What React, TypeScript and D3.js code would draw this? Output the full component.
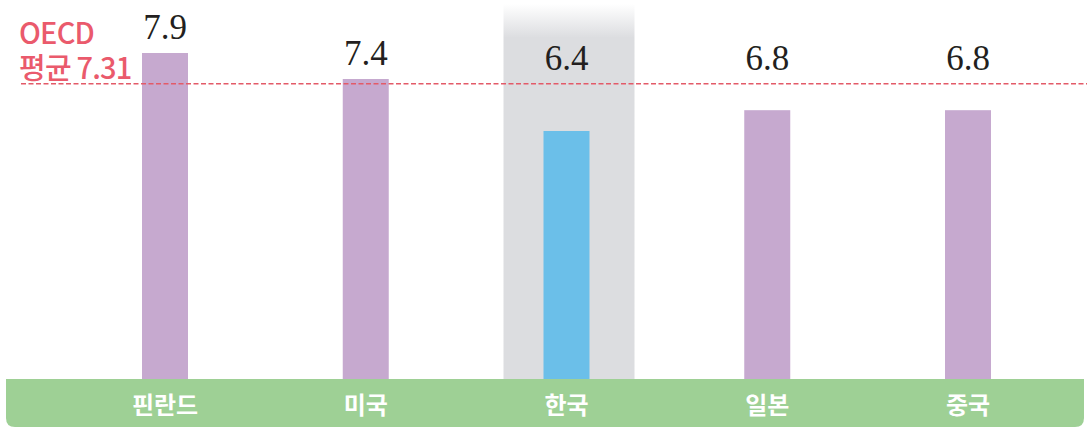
import * as d3 from "d3";

const countries = ["핀란드", "미국", "한국", "일본", "중국"];
const scores = [7.9, 7.4, 6.4, 6.8, 6.8];
const labels = ["7.9", "7.4", "6.4", "6.8", "6.8"];
const highlight = "한국";
const oecdAvg = 7.31;
const oecdLines = ["OECD", "평균 7.31"];

const W = 1087;
const H = 428;
const baseY = 379;

const App = () => {
  const x = d3.scalePoint<string>().domain(countries).range([165, 968]);
  const y = d3.scaleLinear().domain([1.63, 7.9]).range([baseY, 53]);
  const barW = 46;
  const oecdY = y(oecdAvg);
  const r = 9;

  // green band, square on top, rounded at the bottom
  const band = d3.path();
  band.moveTo(6, baseY);
  band.lineTo(1084, baseY);
  band.lineTo(1084, H - 1 - r);
  band.quadraticCurveTo(1084, H - 1, 1084 - r, H - 1);
  band.lineTo(6 + r, H - 1);
  band.quadraticCurveTo(6, H - 1, 6, H - 1 - r);
  band.closePath();

  return (
    <svg
      width={W}
      height={H}
      style={{ position: "absolute", left: 0, top: 0, background: "#fff" }}
    >
      <defs>
        <linearGradient id="hl" x1="0" y1="0" x2="0" y2="1">
          <stop offset="0" stopColor="#ffffff" />
          <stop offset="0.09" stopColor="#dcdde0" />
          <stop offset="1" stopColor="#dcdde0" />
        </linearGradient>
      </defs>

      <rect
        x={x(highlight)! - 63}
        y={4}
        width={131}
        height={baseY - 4}
        fill="url(#hl)"
      />

      {countries.map((c, i) => (
        <rect
          key={c}
          x={x(c)! - barW / 2}
          y={y(scores[i])}
          width={barW}
          height={baseY - y(scores[i])}
          fill={c === highlight ? "#6bbfe9" : "#c6a9cf"}
        />
      ))}

      <line
        x1={21}
        x2={W}
        y1={oecdY}
        y2={oecdY}
        stroke="#e35a68"
        strokeWidth={1.5}
        strokeDasharray="5 2.5"
      />

      {countries.map((c, i) => (
        <text
          key={c}
          x={x(c)!}
          y={Math.min(y(scores[i]), oecdY) - 14}
          textAnchor="middle"
          fontFamily="'Liberation Serif', serif"
          fontSize={35}
          fill="#231f20"
        >
          {labels[i]}
        </text>
      ))}

      {oecdLines.map((t, i) => (
        <text
          key={t}
          x={19}
          y={44 + i * 35}
          fontFamily="'Noto Sans CJK KR', 'Noto Sans', sans-serif"
          fontSize={29}
          fontWeight={500}
          letterSpacing={-0.8}
          fill="#ea5a6c"
        >
          {t}
        </text>
      ))}

      <path d={band.toString()} fill="#9ed095" />
      {countries.map((c) => (
        <text
          key={c}
          x={x(c)!}
          y={414}
          textAnchor="middle"
          fontFamily="'Noto Sans CJK KR', sans-serif"
          fontWeight={700}
          fontSize={24}
          fill="#ffffff"
        >
          {c}
        </text>
      ))}
    </svg>
  );
};

export default App;
